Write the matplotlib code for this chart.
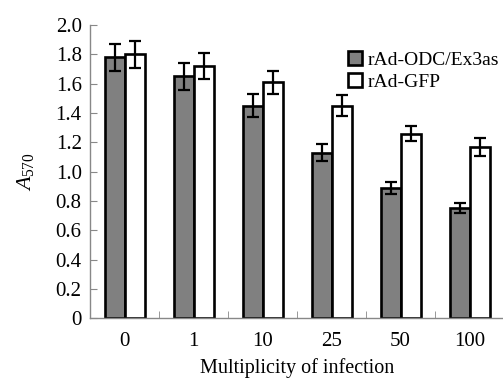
import numpy as np
import matplotlib
matplotlib.use('Agg')
import matplotlib.pyplot as plt

plt.rcParams['font.family'] = ['Liberation Serif', 'DejaVu Serif']
plt.rcParams['mathtext.fontset'] = 'custom'
plt.rcParams['mathtext.rm'] = 'Liberation Serif'
plt.rcParams['mathtext.it'] = 'Liberation Serif:italic'

moi = ['0', '1', '10', '25', '50', '100']
odc = [1.78, 1.65, 1.45, 1.13, 0.89, 0.75]
odc_err = [0.09, 0.09, 0.08, 0.06, 0.04, 0.035]
gfp = [1.80, 1.72, 1.61, 1.45, 1.26, 1.17]
gfp_err = [0.09, 0.09, 0.08, 0.07, 0.05, 0.06]

fig = plt.figure(figsize=(5.03, 3.81), dpi=100)
ax = fig.add_axes([0.179, 0.165, 0.823, 0.769])

x = np.arange(len(moi))
w = 0.29
ekw = dict(ecolor='black', elinewidth=1.6, capsize=4.5, capthick=1.6)
ax.bar(x - w / 2, odc, w, yerr=odc_err, color='#808080', edgecolor='black',
       linewidth=1.9, error_kw=ekw, label='rAd-ODC/Ex3as')
ax.bar(x + w / 2, gfp, w, yerr=gfp_err, color='white', edgecolor='black',
       linewidth=1.9, error_kw=ekw, label='rAd-GFP')

ax.set_xlim(-0.5, 5.5)
ax.set_ylim(0, 2.0)
ax.set_yticks(np.arange(0, 2.01, 0.2))
ax.set_yticklabels(['0'] + ['%.1f' % v for v in np.arange(0.2, 2.01, 0.2)])
ax.set_xticks(x)
ax.set_xticklabels(moi)
ax.set_xticks(np.arange(0.5, 6, 1), minor=True)
ax.tick_params(axis='x', which='major', length=0, labelsize=15, pad=10)
ax.tick_params(axis='x', which='minor', direction='in', length=5, color='#888888')
ax.tick_params(axis='y', direction='in', length=5, color='#888888', labelsize=15, pad=6)

for s in ['top', 'right']:
    ax.spines[s].set_visible(False)
for s in ['left', 'bottom']:
    ax.spines[s].set_color('#888888')
    ax.spines[s].set_linewidth(1.0)

ax.set_xlabel('Multiplicity of infection', fontsize=14.5, labelpad=5)
ax.set_ylabel(r'$A_{570}$', fontsize=16, labelpad=14)

ax.legend(loc='upper right', bbox_to_anchor=(1.03, 0.97), frameon=False,
          fontsize=14, handlelength=0.7, handleheight=0.7, handletextpad=0.3,
          labelspacing=0.2)

fig.savefig('out.png', dpi=100)
